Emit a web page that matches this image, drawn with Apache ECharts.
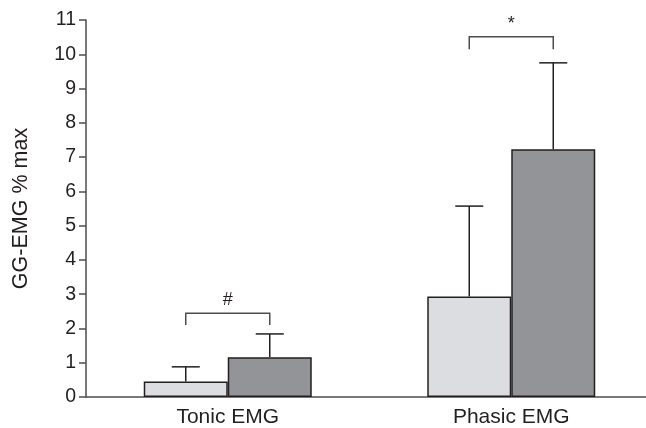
<!DOCTYPE html>
<html>
<head>
<meta charset="utf-8">
<script src="https://cdn.jsdelivr.net/npm/echarts@6/dist/echarts.min.js"></script>
<style>html,body{margin:0;padding:0;background:#fff;}#c{width:646px;height:428px;}</style>
</head>
<body>
<div id="c"></div>
<script>
const categories = ['Tonic EMG', 'Phasic EMG'];
const lightMeans = [0.45, 2.93];
const lightErrTops = [0.88, 5.57];
const darkMeans = [1.16, 7.23];
const darkErrTops = [1.84, 9.75];
const sigLabels = ['#', '*'];
const sigHeights = [2.44, 10.51];
const sigLegBottoms = [2.10, 10.15];
const yTicks = [0, 1, 2, 3, 4, 5, 6, 7, 8, 9, 10, 11];

const BAR_W = 84;
const CAP_W = 28;
const INK = '#231f20';
const AXIS = '#4d4d4f';
const FONT = 'Liberation Sans, Arial, Helvetica, sans-serif';

const chart = echarts.init(document.getElementById('c'), null, {renderer: 'canvas'});

const errData = [];
categories.forEach((c, i) => {
  errData.push([i, lightMeans[i], lightErrTops[i], -1]);
  errData.push([i, darkMeans[i], darkErrTops[i], 1]);
});
const sigData = categories.map((c, i) => [i, sigHeights[i], sigLegBottoms[i], sigLabels[i]]);

function renderErr(params, api) {
  const idx = api.value(0);
  const side = api.value(3);
  const base = api.coord([idx, api.value(1)]);
  const top = api.coord([idx, api.value(2)]);
  const x = base[0] + side * BAR_W / 2;
  return {
    type: 'group',
    children: [
      {type: 'line', shape: {x1: x, y1: base[1], x2: x, y2: top[1]}, style: {stroke: INK, lineWidth: 1.5}},
      {type: 'line', shape: {x1: x - CAP_W / 2, y1: top[1], x2: x + CAP_W / 2, y2: top[1]}, style: {stroke: INK, lineWidth: 1.5}}
    ]
  };
}

function renderSig(params, api) {
  const idx = api.value(0);
  const top = api.coord([idx, api.value(1)]);
  const bot = api.coord([idx, api.value(2)]);
  const xl = top[0] - BAR_W / 2;
  const xr = top[0] + BAR_W / 2;
  return {
    type: 'group',
    children: [
      {type: 'polyline', shape: {points: [[xl, bot[1]], [xl, top[1]], [xr, top[1]], [xr, bot[1]]]}, style: {stroke: AXIS, lineWidth: 1.5, fill: null}},
      {type: 'text', x: top[0], y: top[1] - 4, style: {text: api.value(3), fill: INK, font: '18px ' + FONT, align: 'center', verticalAlign: 'bottom'}}
    ]
  };
}

chart.setOption({
  animation: false,
  backgroundColor: '#fff',
  grid: {left: 86, top: 20, bottom: 31, width: 567, containLabel: false, outerBoundsMode: 'none'},
  xAxis: {
    type: 'category',
    data: categories,
    boundaryGap: true,
    axisLine: {lineStyle: {color: AXIS, width: 1.5}},
    axisTick: {alignWithLabel: true, length: 7, lineStyle: {color: AXIS, width: 1.5}},
    axisLabel: {color: INK, fontSize: 21, fontFamily: FONT, margin: 10}
  },
  yAxis: {
    type: 'value',
    min: 0, max: 11, interval: 1,
    name: 'GG-EMG % max',
    nameLocation: 'middle',
    nameGap: 54,
    nameTextStyle: {color: INK, fontSize: 21.5, fontFamily: FONT},
    axisLine: {show: true, lineStyle: {color: AXIS, width: 1.5}},
    axisTick: {show: true, length: 7, lineStyle: {color: AXIS, width: 1.5}},
    axisLabel: {color: INK, fontSize: 19.5, fontFamily: FONT, margin: 10, formatter: v => yTicks.includes(v) ? String(v) : ''},
    splitLine: {show: false}
  },
  series: [
    {type: 'bar', data: lightMeans, barWidth: BAR_W, barGap: '0%', itemStyle: {color: '#dcdde0', borderColor: INK, borderWidth: 1.5}, z: 2},
    {type: 'bar', data: darkMeans, barWidth: BAR_W, barGap: '0%', itemStyle: {color: '#929497', borderColor: INK, borderWidth: 1.5}, z: 2},
    {type: 'custom', data: errData, renderItem: renderErr, z: 1, silent: true},
    {type: 'custom', data: sigData, renderItem: renderSig, z: 3, silent: true}
  ]
});
</script>
</body>
</html>
